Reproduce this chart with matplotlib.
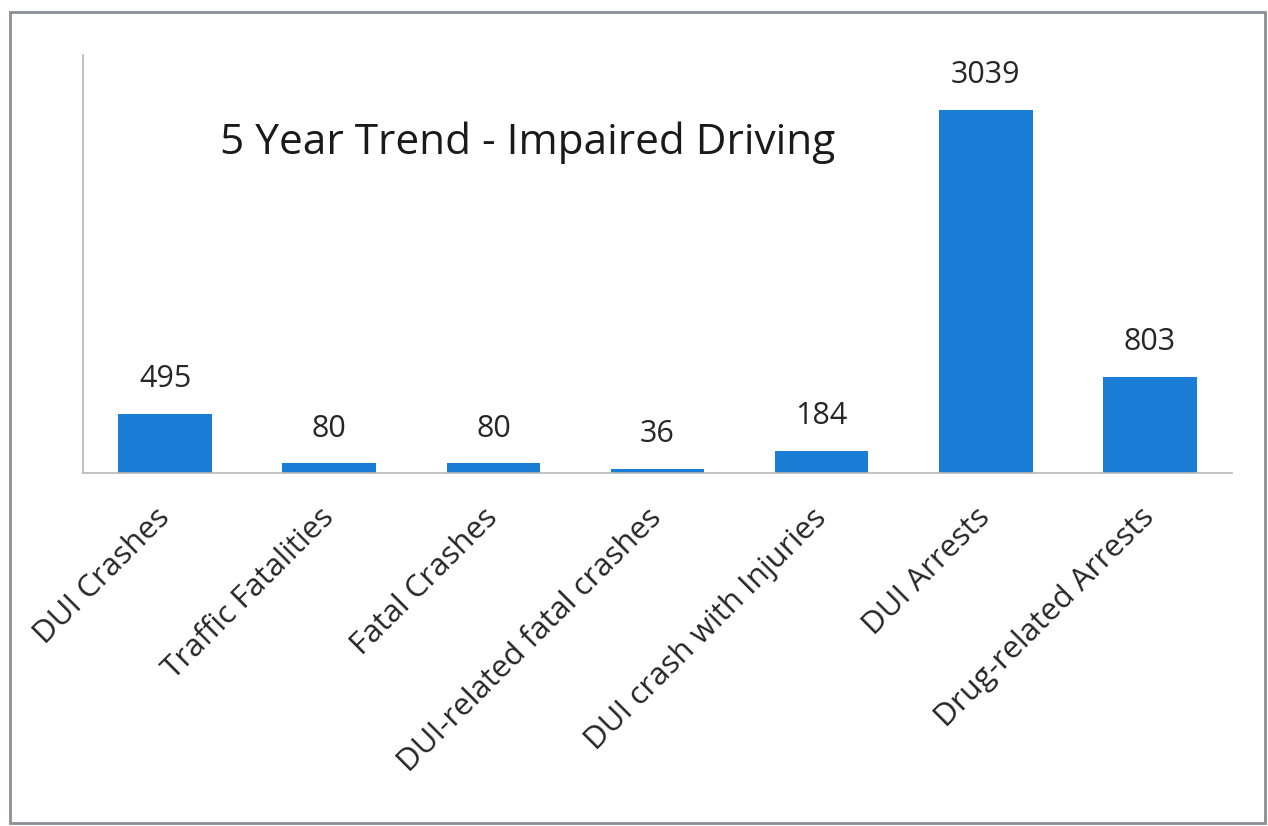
import numpy as np
import matplotlib.pyplot as plt
from matplotlib.patches import Rectangle

# categories and 5-year totals
categories = [
    "DUI Crashes",
    "Traffic Fatalities",
    "Fatal Crashes",
    "DUI-related fatal crashes",
    "DUI crash with Injuries",
    "DUI Arrests",
    "Drug-related Arrests",
]
totals = [495, 80, 80, 36, 184, 3039, 803]

plt.rcParams["font.family"] = ["Open Sans", "DejaVu Sans"]

BAR_COLOR = "#1a7ed6"
AXIS_COLOR = "#b8b8b8"
TEXT_COLOR = "#262626"

fig = plt.figure(figsize=(12.68, 8.26), dpi=100)
ax = fig.add_axes([0.0655, 0.4274, 0.9061, 0.5060])

x = np.arange(len(categories))
bars = ax.bar(x, totals, width=0.57, color=BAR_COLOR, zorder=2)

for b, v in zip(bars, totals):
    ax.annotate(str(v), (b.get_x() + b.get_width() / 2, v),
                xytext=(0, 25), textcoords="offset points",
                ha="center", va="center", fontsize=22, color=TEXT_COLOR)

ax.set_xlim(-0.5, len(categories) - 0.5)
ax.set_ylim(0, 3500)
ax.set_yticks([])
ax.set_xticks(x)
ax.set_xticklabels(categories, rotation=45, ha="right", va="center",
                   rotation_mode="anchor", fontsize=22.5, color=TEXT_COLOR)
ax.tick_params(axis="x", length=0, pad=29)

for side in ("top", "right"):
    ax.spines[side].set_visible(False)
for side in ("left", "bottom"):
    ax.spines[side].set_color(AXIS_COLOR)
    ax.spines[side].set_linewidth(1.2)

ax.text(0.387, 0.79, "5 Year Trend - Impaired Driving", transform=ax.transAxes,
        ha="center", va="center", fontsize=30.5, color="#1a1a1a")

# outer frame around the whole chart
fig.patches.append(Rectangle((10 / 1268, 3 / 826), 1255 / 1268, 811 / 826,
                             transform=fig.transFigure, fill=False,
                             edgecolor="#8a8f96", linewidth=2))

fig.savefig("out.png", dpi=100)
